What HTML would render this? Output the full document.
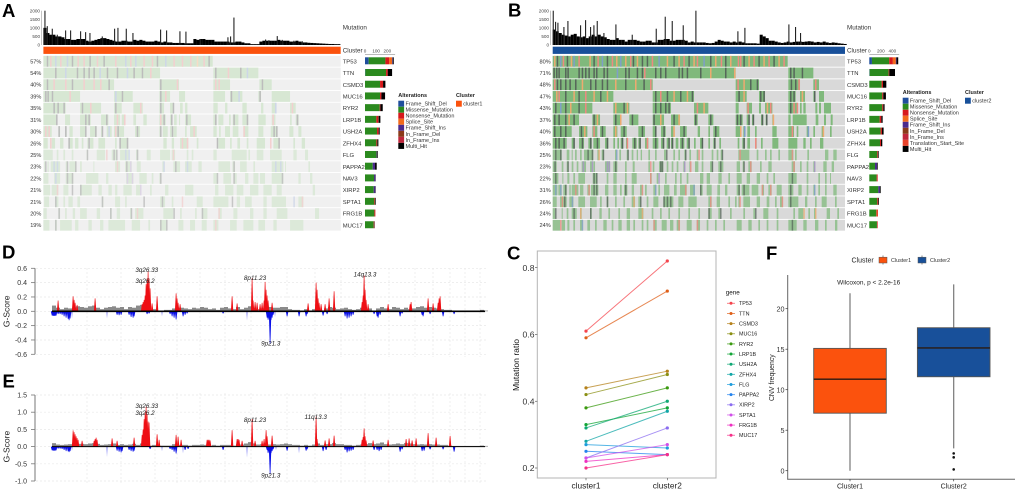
<!DOCTYPE html>
<html lang="en">
<head>
<meta charset="utf-8">
<title>Mutation landscape and CNV by cluster</title>
<style>
html,body{margin:0;padding:0;background:#fff;}
svg{display:block;filter:blur(.3px);}
text{font-family:"Liberation Sans",Arial,sans-serif;}
</style>
</head>
<body>
<svg id="fig" xmlns="http://www.w3.org/2000/svg" width="1020" height="493" viewBox="0 0 1020 493">
  <rect x="0" y="0" width="1020" height="493" fill="#fff"/>
  <g id="panelA"></g>
  <g id="panelB"></g>
  <g id="panelD"></g>
  <g id="panelE"></g>
  <g id="panelC"></g>
  <g id="panelF"></g>
  <g font-weight="700" font-size="18.5" fill="#000">
    <text x="2" y="17">A</text>
    <text x="508" y="16.5">B</text>
    <text x="507" y="259.5">C</text>
    <text x="2" y="258.5">D</text>
    <text x="2.5" y="387.5">E</text>
    <text x="766" y="259.5">F</text>
  </g>
</svg>
<script>
/* ---------- shared oncoplot data ---------- */
const genesA = ["TP53","TTN","CSMD3","MUC16","RYR2","LRP1B","USH2A","ZFHX4","FLG","PAPPA2","NAV3","XIRP2","SPTA1","FRG1B","MUC17"];
const pctA = ["57%","54%","40%","39%","35%","31%","30%","26%","25%","23%","22%","21%","21%","20%","19%"];
const pctB = ["80%","71%","48%","47%","43%","37%","40%","36%","25%","23%","22%","31%","26%","24%","24%"];
const alterationsA = ["Frame_Shift_Del","Missense_Mutation","Nonsense_Mutation","Splice_Site","Frame_Shift_Ins","In_Frame_Del","In_Frame_Ins","Multi_Hit"];
const alterationsB = ["Frame_Shift_Del","Missense_Mutation","Nonsense_Mutation","Splice_Site","Frame_Shift_Ins","In_Frame_Del","In_Frame_Ins","Translation_Start_Site","Multi_Hit"];
const mutTicks = [2000,1500,1000,500,0];

/* total mutation burden: block values every 9 sample columns, plus isolated hypermutated samples */
const burdenA = [1000,700,600,600,500,500,450,350,350,300,300,350,350,350,250,200,250,300,350,400,400,350,300,250,200,200,250,250,200,200,300,250,300,250,200,200,200,250,200,150,200,150,150,120,120,120,120,100,100,100,350,300,350,350,300,300,300,200,200,200,200,200,150,150,200,200,150,100,100,50,50,50,200,250,250,250,250,250,300,250,250,250,200,200,250,200,150,150,130,120,110,100,90,80,70,60,60,50,50];
const spikesA = [[133,2000],[140,1100],[155,950],[170,600],[195,850],[210,850],[240,800],[255,750],[268,700],[305,500],[342,950],[352,1000],[377,950],[397,700],[480,900],[498,850],[538,800],[556,780],[700,1600],[682,450],[690,500],[600,350],[795,320],[805,280],[830,520],[845,300],[880,250],[905,220]];
const burdenB = [900,800,700,600,550,500,600,650,500,450,500,400,500,600,500,600,500,450,350,300,300,400,300,300,200,300,300,300,250,200,200,250,250,150,150,300,300,350,350,250,250,300,300,300,250,150,200,150,150,150,150,120,100,120,200,300,250,200,200,150,200,150,200,150,100,100,100,100,80,600,500,400,250,250,200,150,120,150,200,150,180,200,200,180,200,220,200,150,180,150,200,150,120,150,130,100,80,60];
const spikesB = [[128,2000],[135,1350],[142,1300],[160,1050],[172,1400],[210,1150],[225,1450],[240,1050],[250,1150],[260,1400],[280,700],[316,1200],[365,600],[437,950],[464,1650],[485,1400],[518,1150],[556,2000],[682,800],[703,1000],[835,1200],[855,1050],[870,700]];

/* mutated sample runs per gene: [first column, last column] */
const runsA = [
[[130,638]],
[[130,480],[640,775]],
[[130,342],[478,537],[640,690],[778,815]],
[[130,240],[342,398],[478,510],[537,555],[640,675],[690,727],[775,783],[815,870]],
[[130,197],[240,303],[342,365],[400,428],[478,492],[510,522],[540,548],[555,562],[640,653],[675,682],[727,740],[783,790],[815,826],[870,887]],
[[130,172],[195,210],[240,272],[303,325],[342,360],[365,375],[400,408],[430,440],[478,497],[510,517],[522,530],[537,540],[555,573],[640,650],[655,670],[687,692],[698,715],[727,745],[775,797],[815,826],[870,875],[887,896]],
[[130,155],[175,180],[195,200],[208,218],[240,258],[270,290],[303,308],[320,335],[342,372],[405,420],[478,483],[488,503],[510,515],[520,530],[555,560],[570,590],[640,650],[657,662],[675,690],[698,715],[730,745],[775,790],[812,833],[868,880],[895,904]],
[[130,143],[155,165],[180,190],[205,218],[225,235],[245,250],[262,266],[270,280],[295,315],[345,350],[358,385],[490,500],[515,522],[540,565],[590,595],[655,675],[690,695],[712,720],[740,745],[770,795],[820,838],[880,885],[905,915]],
[[130,158],[170,175],[190,195],[215,220],[260,263],[290,315],[335,350],[360,385],[408,415],[440,452],[480,510],[515,525],[560,565],[575,580],[640,650],[695,740],[745,750],[770,790],[810,845],[880,890],[915,924]],
[[132,137],[142,146],[152,180],[197,202],[208,228],[240,245],[280,283],[345,360],[375,395],[410,422],[487,492],[520,540],[555,575],[595,605],[655,690],[697,705],[720,740],[760,765],[815,850],[855,858],[925,930]],
[[130,145],[162,180],[197,220],[258,295],[318,325],[378,400],[418,440],[455,460],[478,484],[640,652],[670,693],[700,710],[735,745],[760,775],[780,795],[815,850],[895,902],[930,937]],
[[130,150],[155,175],[190,205],[240,275],[295,305],[325,335],[345,352],[370,395],[408,422],[450,455],[495,505],[555,580],[645,655],[675,700],[710,730],[750,775],[790,815],[830,845],[938,945]],
[[132,147],[165,175],[190,195],[205,218],[232,240],[305,310],[345,360],[375,380],[480,495],[515,520],[590,608],[640,685],[710,720],[735,755],[790,800],[815,858],[895,910]],
[[130,140],[175,180],[195,200],[218,225],[240,260],[290,300],[330,335],[350,360],[390,395],[405,430],[490,520],[540,545],[585,590],[605,622],[655,665],[700,712],[750,760],[790,800],[830,862],[945,957]],
[[130,148],[165,170],[180,215],[225,235],[265,275],[300,310],[325,375],[395,420],[445,450],[480,500],[535,550],[570,585],[605,620],[640,655],[690,710],[730,760],[775,795],[820,830],[870,910]]
];
const runsB = [
[[128,833]],
[[128,677],[835,910]],
[[128,428],[677,747],[835,870],[910,927]],
[[128,310],[428,552],[677,710],[747,765],[835,857],[870,885],[910,916],[927,942]],
[[128,247],[310,358],[428,483],[552,595],[677,686],[710,726],[747,753],[765,787],[835,862],[870,875],[880,887],[916,922],[927,933],[942,963]],
[[128,207],[247,270],[310,332],[358,385],[428,462],[483,510],[552,563],[595,610],[677,698],[710,716],[726,732],[753,760],[767,772],[787,792],[835,842],[848,890],[917,925],[942,948],[962,968]],
[[128,185],[207,232],[247,262],[270,287],[310,322],[332,350],[385,405],[428,437],[453,467],[483,490],[510,530],[563,570],[595,600],[610,628],[677,690],[700,705],[712,720],[735,740],[787,800],[835,852],[860,865],[890,895],[910,915],[935,942],[960,965]],
[[128,170],[185,193],[207,222],[235,245],[250,270],[285,295],[310,315],[322,327],[332,340],[348,352],[367,380],[385,392],[405,415],[428,445],[453,463],[470,478],[483,490],[497,505],[510,523],[530,538],[552,557],[570,578],[595,600],[610,617],[628,633],[683,688],[697,705],[712,720],[735,740],[753,758],[787,805],[835,862],[880,887],[900,905],[930,940]],
[[128,155],[170,178],[185,188],[195,200],[210,215],[222,250],[262,268],[275,282],[315,320],[328,333],[350,355],[365,370],[380,384],[392,396],[415,420],[435,440],[462,468],[490,495],[505,510],[523,528],[538,543],[560,565],[575,580],[605,610],[620,625],[632,638],[685,718],[740,745],[765,770],[780,785],[805,810],[835,850],[855,860],[892,897],[945,955],[970,980]],
[[128,140],[155,160],[170,175],[185,190],[200,205],[215,228],[240,248],[250,255],[285,300],[310,322],[345,350],[368,374],[415,420],[428,433],[447,460],[470,475],[485,490],[500,505],[520,525],[538,542],[555,565],[575,580],[600,608],[625,640],[680,690],[698,702],[715,725],[750,755],[775,785],[845,855],[870,875],[890,895],[910,915],[940,950],[965,972]],
[[128,145],[157,160],[172,178],[190,195],[205,225],[248,262],[290,295],[310,320],[345,350],[365,380],[420,425],[440,445],[465,470],[495,500],[510,515],[530,535],[570,580],[590,600],[625,635],[655,660],[680,695],[710,720],[740,750],[770,775],[790,795],[835,860],[890,895],[925,930],[945,950],[960,963]],
[[128,142],[145,155],[160,170],[178,182],[185,205],[210,220],[232,240],[243,265],[285,295],[310,320],[330,335],[342,352],[365,372],[390,398],[405,410],[430,438],[445,450],[462,478],[492,500],[510,530],[540,555],[570,578],[590,605],[622,630],[645,652],[680,690],[695,718],[725,745],[755,762],[775,785],[800,815],[835,850],[865,875],[890,895],[910,915],[925,930],[945,950],[970,980]],
[[128,140],[150,170],[178,190],[205,225],[240,260],[270,275],[290,295],[315,320],[340,345],[365,375],[385,392],[410,415],[430,445],[460,490],[505,520],[535,560],[595,605],[620,630],[655,660],[675,680],[685,690],[700,720],[740,750],[770,778],[795,800],[810,818],[835,865],[885,892],[915,920],[935,950],[975,980]],
[[128,135],[155,158],[170,175],[185,200],[210,215],[240,245],[268,275],[295,300],[325,330],[350,360],[385,400],[425,430],[450,455],[475,480],[505,510],[535,540],[565,570],[595,605],[625,630],[660,665],[700,705],[730,735],[760,775],[800,805],[850,855],[865,880],[895,900],[912,917],[950,960],[982,987]],
[[128,150],[155,165],[172,178],[190,195],[210,218],[232,240],[255,260],[280,290],[305,310],[325,335],[350,360],[370,375],[395,400],[410,415],[430,440],[455,470],[480,490],[500,510],[530,545],[560,570],[590,595],[615,620],[640,645],[680,695],[715,725],[745,750],[770,775],[800,805],[835,860],[880,890],[915,925],[945,950],[975,982]]
];
/* single-sample non-missense calls: column + type letter (k multi-hit, r nonsense, o splice, b fs-del, p fs-ins) */
const accentsA = [
"140k 150r 165b 180r 200b 215k 232r 250r 268k 290r 310k 345r 375b 390r 405b 430r 455r 470k 495b 520r 545r 570r 590o 610r 625k",
"165k 195b 230k 250k 265k 280k 298b 320k 350k 380b 400k 425k 450r 645k 683r 720k 740b",
"140k 160r 195r 215k 250r 280r 300r 325k 480k 530r 645r 655r 785k",
"135k 142k 155k 208r 345b 365k 480k 495r 692k 715b 778k",
"160k 172k 190k 245k 270r 345k 420r 480k 518k 825b 875r",
"168k 255k 265k 318k 350r 372r 480r 490k 513k 558k 645k 700k 740k 817r 890k",
"135r 145r 175k 195k 255k 285k 305k 325b 345r 352k 410k 480k 515k 580r 730r 820k 828k",
"150r 205k 265k 358k 380k 545r 560r 650k 810r 835k",
"260k 318r 340k 348k 375b 385b 410k 518r",
"135k 160b 170b 200k 225k 350r 378k 390p 490b 525k 560b 700k 825b 840b",
"165b 200k 215k 380p 395p 480k 650k 700k 845k",
"170r 215k 240k 420p",
"165k 305k 430k 485k 545r 695k 880b 905r",
"175k 330k 392k 410r 520k 605k 655r",
"165k 480k 498k 645r"
];
const accentsB = [
"132o 140k 150b 158r 170k 182o 190b 205r 238o 250k 262r 275b 290k 305r 318o 330b 345o 360r 368k 380o 395k 410k 425r 445b 470o 490k 505o 520r 535k 550o 560r 580b 600k 615o 632r 645k 660o 683r 690r 700k 715o 730r 745k 760o 775r 790k 805o 820r",
"130k 138k 145k 165k 172k 205k 215k 225k 235k 250k 258k 280k 290k 320b 345k 355k 380k 395k 402r 435k 450k 465k 505k 515k 530k 570k 600o 645k 672o 840k 850k 875k",
"132r 140k 150k 165k 178k 195k 215o 240k 255k 275k 290k 315o 345k 375o 400k 420r 682r 700o 720k 740k 842k 855k 865r 915r",
"138o 145r 165k 190o 205k 225r 250o 270k 290o 435k 450r 470k 490o 510k 530o 545k 685k 700o 750k 760k 840k 850k 875o 912k",
"135k 150b 165k 180o 205k 225r 315o 340k 350o 435k 450k 465k 475k 560r 580o 712r 770o 780r 840k 850r 860r",
"132k 145k 165k 175o 190k 250k 260o 315k 330o 365k 430k 450o 490k 505o 555k 600k 680k 690k 715k 728k 755k 768k 788o",
"132k 150k 165k 212k 222o 250r 275k 315o 340k 395k 435k 460k 490o 520k 615k 690o 702b 845r 893b 938o",
"135k 145k 160k 190k 215k 240k 260k 290k 335k 350r 372k 388k 410r 435k 458k 475k 485k 515k 535k 575k 612k 700k 735r",
"135k 150k 232k 245k 265o 278k 318b 352k 468k 525k 565r 635k 688r 845r",
"133k 172k 218p 245p 290p 296p 315k 420r 450k 455k 522p 540r 605k 630k 700k 720r 850r 912p",
"135k 250k 258k 420r 445p 845k",
"135b 150b 165k 195r 235r 250k 258k 345k 395r 435b 525r 550b 570k 685k 700k 755r 780r 840k 912b",
"155r 162k 185b 290k 370o 390k 460k 470k 480k 600r 688r 815r 840k",
"135k 190k 210o 240k 395o 595k 630k 735k 880o 915o",
"150r 215b 430r 505r 560r 845k"
];
/* per-gene alteration counts: [fsDel, missense, nonsense, splice, fsIns, inDel, inIns, tss, multi] */
const countsA = [
[33,150,33,27,6,0,0,0,9],[3,186,15,0,0,0,0,0,39],[0,135,27,0,0,0,0,0,21],[0,135,12,0,0,0,0,0,33],[0,132,6,0,0,0,0,0,21],
[0,102,15,0,0,6,0,0,15],[0,108,15,0,0,0,0,0,9],[0,102,6,0,0,3,0,0,9],[0,102,0,0,3,0,0,0,9],[0,69,0,0,21,0,0,0,15],
[0,81,0,0,12,0,0,0,3],[0,78,0,0,15,0,0,0,3],[0,84,6,0,0,0,0,0,6],[0,84,9,0,0,0,0,0,0],[0,78,6,0,0,0,0,0,3]];
const countsB = [
[46,300,64,52,12,0,0,0,29],[6,330,12,0,0,0,0,0,99],[0,215,23,0,0,0,0,0,58],[0,226,17,0,0,0,0,0,46],[0,226,17,0,0,0,0,0,23],
[0,180,29,0,0,0,0,0,23],[0,197,23,0,0,0,0,0,29],[0,186,17,0,0,0,0,0,23],[0,139,12,0,0,0,0,0,12],[0,99,0,0,35,0,0,0,12],
[0,128,17,0,0,0,0,0,0],[0,157,0,0,29,0,0,0,12],[0,139,17,0,0,0,0,0,12],[0,122,0,0,0,0,0,29,0],[0,133,12,0,0,0,0,0,0]];

/* ---------- GISTIC data: genomic position (0-433) and G-score ---------- */
const chromBreaks = [35,69,103,125,148,173,199,235,263,289,313,337,363,381,398,413,428];
const cytobands = ["3q26.33","3q26.2","8p11.23","9p21.3"];
const ampPosD = [6,21,22,23,25,43,90,91,92,93,94,95,96,97,98,100,105,124,125,126,128,180,185,200,201,203,205,208,210,212,213,214,215,216,220,256,264,265,266,267,269,273,277,282,310,311,312,313,314,316,336,358,359,376,381,386,387,388];
const ampValD = [.15,.21,.16,.12,.09,.18,.1,.13,.16,.22,.38,.46,.56,.46,.32,.11,.21,.25,.18,.12,.1,.21,.11,.46,.15,.13,.12,.1,.12,.15,.41,.3,.22,.15,.12,.11,.4,.3,.18,.12,.1,.1,.18,.28,.13,.22,.5,.3,.16,.1,.1,.1,.13,.18,.11,.12,.18,.21];
const delPosD = [0,1,2,3,4,6,8,10,12,14,16,17,18,65,67,69,77,79,81,82,95,97,118,120,122,124,131,133,135,171,215,216,217,218,219,220,221,235,247,254,255,271,275,293,295,297,299,301,322,325,326,328,348,350,370,371,378,391,402];
const delValD = [.06,.065,.065,.065,.06,.04,.04,.05,.07,.09,.105,.125,.1,.05,.055,.05,.05,.08,.09,.07,.04,.03,.04,.07,.09,.115,.07,.05,.03,.03,.09,.12,.1,.45,.12,.09,.05,.07,.07,.07,.04,.06,.04,.07,.1,.09,.07,.05,.04,.07,.09,.05,.07,.03,.05,.07,.04,.07,.04];
const faintDelPosD = [20,55,110,195,223];
const faintDelValD = [.1,.1,.07,.13,.08];
const greyD = [.08,.05,.03,.05,.04,.05,.07,.06,.05,.07,.08,.05,.03,.05,.06,.07,.05,.06,.03,.06,.05,.08,.09,.05,.02,.03,.01,.01,.02,.02,.04,.05,.05,.04,.03,.05,.04,.06,.05,.03,.04,.02,.05,.06,.04,.03,.06,.03,.05,.07,.05,.03,.04,.05,.06,.05,.05,.06,.06,.03,.02,.02,.01,.03,.01,.03,.02,.01,.04,.06,.05,.03,.04,.05,.03,.02,.03,.05,.03,.04,.01,.04,.06,.04,.03,.06,.05,.03,.05,.03,.04,.06,.07,.05,.06,.05,.04,.03,.02,.02,.01,.01,.01,.01,.01,.01,.01,.02,.01];
const ampPosE = [21,22,23,24,25,26,30,42,43,44,45,60,65,82,90,91,92,93,94,95,96,97,105,107,124,126,129,155,156,157,158,180,185,186,187,190,200,203,210,212,214,215,220,264,265,273,277,282,310,311,312,313,314,321,336,354,357,360,364,376,384,398];
const ampValE = [.47,.42,.36,.3,.25,.2,.17,.17,.22,.26,.2,.24,.17,.26,.34,.5,.8,1.0,1.16,.95,.73,.7,.36,.2,.34,.29,.2,.2,.2,.2,.18,.48,.22,.22,.2,.17,.8,.17,.17,.22,.48,.3,.32,.87,.22,.18,.24,.32,.2,.28,.53,.3,.18,.18,.2,.22,.24,.18,.24,.39,.26,.31];
const delPosE = [0,1,2,3,4,6,8,10,12,14,16,17,18,65,67,69,70,77,79,81,82,98,118,120,122,124,133,136,171,215,216,217,218,219,220,221,235,254,255,271,274,293,295,297,299,301,322,325,327,329,348,350,370,372,378,391,402];
const delValE = [.11,.12,.12,.12,.11,.06,.06,.07,.1,.13,.14,.16,.13,.12,.15,.17,.13,.1,.13,.15,.12,.07,.07,.1,.15,.2,.1,.07,.1,.1,.19,.15,.8,.19,.13,.08,.12,.12,.08,.13,.1,.1,.17,.14,.12,.1,.1,.1,.13,.1,.15,.08,.13,.12,.08,.08,.15];
const faintDelPosE = [20,55,110,131,195,224,247];
const faintDelValE = [.12,.3,.13,.2,.32,.1,.2];
const greyE = [.1,.06,.05,.06,.07,.1,.08,.08,.07,.09,.1,.08,.05,.06,.07,.09,.05,.07,.05,.06,.08,.05,.09,.07,.03,.05,.02,.03,.03,.03,.07,.05,.05,.05,.03,.05,.05,.06,.05,.03,.05,.03,.05,.05,.05,.03,.07,.06,.09,.13,.09,.06,.07,.09,.06,.07,.06,.07,.09,.07,.05,.05,.03,.05,.03,.06,.09,.05,.07,.07,.1,.07,.07,.05,.05,.03,.05,.06,.07,.1,.07,.09,.12,.07,.06,.07,.09,.07,.1,.09,.07,.06,.07,.06,.07,.06,.06,.05,.05,.03,.02,.02,.02,.02,.02,.02,.02,.03,.02];
const ticksD = [0.6,0.4,0.2,0,-0.2,-0.4,-0.6];
const ticksE = [1.5,1,0.5,0,-0.5,-1];

/* ---------- panel C data ---------- */
const ratioGenes = ["TP53","TTN","CSMD3","MUC16","RYR2","LRP1B","USH2A","ZFHX4","FLG","PAPPA2","XIRP2","SPTA1","FRG1B","MUC17"];
const ratioCluster1 = [.61,.59,.44,.42,.38,.33,.32,.28,.27,.25,.23,.23,.22,.20];
const ratioCluster2 = [.82,.73,.49,.48,.44,.38,.40,.37,.26,.24,.32,.27,.24,.24];
const ratioTicks = [0.2,0.4,0.6,0.8];
const ratioGroups = ["cluster1","cluster2"];

/* ---------- panel F data ---------- */
const boxNames = ["Cluster1","Cluster2"];
const boxLow = [0,2.75];
const boxQ1 = [7.1,11.6];
const boxMedian = [11.3,15.15];
const boxQ3 = [15.1,17.65];
const boxHigh = [21.9,23];
const boxOutliers = [[],[2.14,1.65,0.16]];
const cnvTicks = [0,5,10,15,20];

/* ---------- helpers ---------- */
const NS = "http://www.w3.org/2000/svg";
function add(parent, tag, attrs, txt) {
  const el = document.createElementNS(NS, tag);
  for (const k in attrs) el.setAttribute(k, attrs[k]);
  if (txt !== undefined) el.textContent = txt;
  parent.appendChild(el);
  return el;
}
function linear(d0, d1, r0, r1) { return v => r0 + (v - d0) * (r1 - r0) / (d1 - d0); }

const altColor = {"Frame_Shift_Del":"#1f4e9c","Missense_Mutation":"#2b8a1e","Nonsense_Mutation":"#d7191c","Splice_Site":"#f26a1a","Frame_Shift_Ins":"#4b2a8c","In_Frame_Del":"#8b3a1a","In_Frame_Ins":"#c0263c","Translation_Start_Site":"#e8432a","Multi_Hit":"#000000"};
const countOrder = ["Frame_Shift_Del","Missense_Mutation","Nonsense_Mutation","Splice_Site","Frame_Shift_Ins","In_Frame_Del","In_Frame_Ins","Translation_Start_Site","Multi_Hit"];

/* ---------- oncoplot ---------- */
function oncoplot(cfg) {
  const g = cfg.g;
  const xs = linear(cfg.d0, cfg.d1, cfg.x0, cfg.x1);
  const yBurden = linear(0, 2000, 45, 10.7);
  cfg.burden.forEach((v, i) => {
    const bar = add(g, "rect", {x: xs(cfg.d0 + i * 9), y: yBurden(v), width: 3.05, height: 45 - yBurden(v), fill: "#000"});
    
    
  });
  cfg.spikes.forEach(s => {
    const sp = add(g, "rect", {x: xs(s[0]), y: yBurden(s[1]), width: 1.1, height: 45 - yBurden(s[1]), fill: "#222"});
    
    
  });
  const axis = add(g, "line", {x1: 41.5 + cfg.dxLab, x2: 41.5 + cfg.dxLab, y1: 10.7, y2: 45, stroke: "#888", "stroke-width": .5});
  
  
  mutTicks.forEach(t => {
    const lab = add(g, "text", {x: 40 + cfg.dxLab, y: yBurden(t) + 1.6, "font-size": 4.6, "text-anchor": "end", fill: "#444"}, String(t));
    
    
  });
  const cb = add(g, "rect", {x: cfg.x0, y: 46.7, width: cfg.x1 - cfg.x0, height: 7.2, fill: cfg.clusterColor});
  
  

  genesA.forEach((gene, r) => {
    const y = 55.9 + r * 11.71;
    const base = add(g, "rect", {x: cfg.x0, y: y, width: cfg.x1 - cfg.x0, height: 10.8, fill: cfg.base});
    
    
    const rowAlpha = r >= 8 ? cfg.lowerAlpha : 1;
    cfg.runs[r].forEach(run => {
      const c = add(g, "rect", {x: xs(run[0]), y: y, width: xs(run[1]) - xs(run[0]), height: 10.8, fill: cfg.cell.g, "fill-opacity": rowAlpha});
      
      
    });
    cfg.accents[r].split(" ").forEach(tok => {
      const col = parseInt(tok, 10);
      const kind = tok.slice(-1);
      const a = add(g, "rect", {x: xs(col), y: y, width: 1.5, height: 10.8, fill: cfg.cell[kind], "fill-opacity": rowAlpha});
      
      
    });
    const pct = add(g, "text", {x: cfg.x0 - 2, y: y + 7.4, "font-size": 5.6, "text-anchor": "end", fill: "#333"}, cfg.pct[r]);
    
    
    const gl = add(g, "text", {x: cfg.x1 + 2, y: y + 7.5, "font-size": 5.9, fill: "#333"}, gene);
    
    
    let cx = cfg.barX;
    const barScale = cfg.barPx / cfg.barMax;
    cfg.counts[r].forEach((v, k) => {
      if (!v) return;
      const seg = add(g, "rect", {x: cx, y: y + 1.4, width: v * barScale, height: 7, fill: altColor[countOrder[k]]});
      
      
      cx += v * barScale;
    });
  });
  const mt = add(g, "text", {x: cfg.x1 + 2, y: 29.5, "font-size": 6.3, fill: "#333"}, "Mutation");
  
  
  const ct = add(g, "text", {x: cfg.x1 + 2, y: 52.3, "font-size": 6.3, fill: "#333"}, "Cluster");
  
  
  const ax = add(g, "line", {x1: cfg.barX, x2: cfg.barX + cfg.barPx * cfg.axisEnd, y1: 54.5, y2: 54.5, stroke: "#777", "stroke-width": .5});
  
  
  cfg.barTicks.forEach(t => {
    const tl = add(g, "text", {x: cfg.barX + t * cfg.barPx / cfg.barMax, y: 52.7, "font-size": 4.6, "text-anchor": "middle", fill: "#444"}, String(t));
    
    
  });
  const lt = add(g, "text", {x: cfg.legX, y: cfg.legY, "font-size": 5.5, "font-weight": 700, fill: "#222"}, "Alterations");
  
  
  cfg.alts.forEach((name, i) => {
    const y = cfg.legY + 6.7 + i * 6.03;
    const sw = add(g, "rect", {x: cfg.legX, y: y - 3, width: 5.8, height: 6, fill: altColor[name]});
    
    
    const lb = add(g, "text", {x: cfg.legX + 7.2, y: y + 1.9, "font-size": 5.5, fill: "#333"}, name);
    
    
  });
  const cl = add(g, "text", {x: cfg.cluX, y: cfg.legY, "font-size": 5.5, "font-weight": 700, fill: "#222"}, "Cluster");
  
  
  const cs = add(g, "rect", {x: cfg.cluX, y: cfg.legY + 3.7, width: 5.8, height: 6, fill: cfg.clusterColor});
  
  
  const cn = add(g, "text", {x: cfg.cluX + 7.2, y: cfg.legY + 8.6, "font-size": 5.5, fill: "#333"}, cfg.clusterName);
  
  
}
oncoplot({g: document.getElementById("panelA"), d0: 130, d1: 1022, x0: 43.4, x1: 340.7, dxLab: 0,
  burden: burdenA, spikes: spikesA, runs: runsA, accents: accentsA, counts: countsA, pct: pctA, alts: alterationsA,
  clusterColor: "#fb520d", clusterName: "cluster1", base: "#f0f0f0", lowerAlpha: .8,
  cell: {g:"#d7e7d3",k:"#bcbcbc",r:"#f3cfcf",o:"#f7dcc6",b:"#cdd6e8",p:"#dccfe6"},
  barX: 365, barPx: 22.3, barMax: 200, axisEnd: 1.35, barTicks: [0,100,200],
  legX: 398.3, legY: 97, cluX: 456});
oncoplot({g: document.getElementById("panelB"), d0: 128, d1: 1005, x0: 552.7, x1: 845, dxLab: 509,
  burden: burdenB, spikes: spikesB, runs: runsB, accents: accentsB, counts: countsB, pct: pctB, alts: alterationsB,
  clusterColor: "#18509a", clusterName: "cluster2", base: "#d9d9d9", lowerAlpha: .75,
  cell: {g:"#80b97c",k:"#56665a",r:"#ee8a80",o:"#eeaa70",b:"#7f9fc8",p:"#a890c8"},
  barX: 869.3, barPx: 23, barMax: 400, axisEnd: 1.3, barTicks: [0,200,400],
  legX: 902.7, legY: 94, cluX: 965});

/* ---------- GISTIC ---------- */
function gistic(cfg) {
  const g = cfg.g;
  const xp = linear(0, 433, 52, 485);
  const yp = linear(cfg.d0, cfg.d1, cfg.r0, cfg.r1);
  const zero = yp(0);
  chromBreaks.forEach(b => {
    const v = add(g, "line", {x1: xp(b), x2: xp(b), y1: cfg.gridTop, y2: cfg.gridBot, stroke: "#e8e8e8", "stroke-width": .7, "stroke-dasharray": "2 2"});
    
    
  });
  cfg.ticks.forEach(t => {
    const h = add(g, "line", {x1: 36, x2: 487, y1: yp(t), y2: yp(t), stroke: "#e8e8e8", "stroke-width": .7, "stroke-dasharray": "2 2"});
    
    
    const tk = add(g, "line", {x1: 31, x2: 35, y1: yp(t), y2: yp(t), stroke: "#777", "stroke-width": .8});
    
    
    const lb = add(g, "text", {x: 27, y: yp(t) + 2.5, "font-size": 7, "text-anchor": "end", fill: "#333"}, t.toFixed(1));
    
    
  });
  const ax = add(g, "line", {x1: 35, x2: 35, y1: yp(cfg.ticks[0]), y2: yp(cfg.ticks[cfg.ticks.length - 1]), stroke: "#777", "stroke-width": 1});
  
  
  const title = add(g, "text", {x: 0, y: 0, "font-size": 8.5, "text-anchor": "middle", fill: "#222", transform: "translate(9.5," + zero + ") rotate(-90)"}, "G-Score");
  
  
  cfg.grey.forEach((v, i) => {
    const b = add(g, "rect", {x: xp(i * 4), y: yp(v), width: 4, height: zero - yp(v), fill: "#8a8a8a"});
    
    
  });
  cfg.ampPos.forEach((p, i) => {
    const px = xp(p);
    const t = add(g, "polygon", {points: (px - 1.1) + "," + zero + " " + (px - .2) + "," + yp(cfg.ampVal[i]) + " " + (px + .4) + "," + yp(cfg.ampVal[i]) + " " + (px + 1.3) + "," + zero, fill: "#ee0f14"});
    
    
  });
  cfg.delPos.forEach((p, i) => {
    const px = xp(p);
    const t = add(g, "polygon", {points: (px - 1.2) + "," + zero + " " + (px - .2) + "," + yp(-cfg.delVal[i]) + " " + (px + .4) + "," + yp(-cfg.delVal[i]) + " " + (px + 1.4) + "," + zero, fill: "#0a10e8"});
    
    
  });
  cfg.faintPos.forEach((p, i) => {
    const px = xp(p);
    const t = add(g, "polygon", {points: (px - .6) + "," + zero + " " + px + "," + yp(-cfg.faintVal[i]) + " " + (px + .6) + "," + zero, fill: "#7a7cf4"});
    
    
  });
  const base = add(g, "line", {x1: xp(0), x2: xp(433), y1: zero, y2: zero, stroke: "#000", "stroke-width": cfg.baseW});
  
  
  cfg.labels.forEach(l => {
    const t = add(g, "text", {x: l[1], y: l[2], "font-size": 6.3, "font-style": "italic", "text-anchor": "middle", fill: "#222"}, l[0]);
    
    
  });
}
gistic({g: document.getElementById("panelD"), d0: -0.6, d1: 0.6, r0: 354.3, r1: 268.3, ticks: ticksD, gridTop: 268, gridBot: 357,
  grey: greyD, ampPos: ampPosD, ampVal: ampValD, delPos: delPosD, delVal: delValD, faintPos: faintDelPosD, faintVal: faintDelValD, baseW: 1.6,
  labels: [[cytobands[0],146.7,272],[cytobands[1],145,283],[cytobands[2],255,280],["14q13.3",365,276.5],[cytobands[3],270.7,345.5]]});
gistic({g: document.getElementById("panelE"), d0: -1, d1: 1.5, r0: 481, r1: 395, ticks: ticksE, gridTop: 393, gridBot: 483,
  grey: greyE, ampPos: ampPosE, ampVal: ampValE, delPos: delPosE, delVal: delValE, faintPos: faintDelPosE, faintVal: faintDelValE, baseW: 1,
  labels: [[cytobands[0],146.7,408],[cytobands[1],145,415],[cytobands[2],255,422],["11q13.3",315.7,419],[cytobands[3],270.7,477.5]]});

/* ---------- panel C ---------- */
(function () {
  const g = document.getElementById("panelC");
  const colors = ["#f4444c","#df5f18","#b5811b","#8a8f12","#3a9a0f","#12a536","#0fa874","#10a6a6","#1c9cdc","#2383ee","#8a6cf0","#d04fe8","#ee2fc0","#f52f88"];
  const yr = linear(0.2, 0.8, 468, 267.7);
  const xr = i => 586 + i * 81.3;
  const frame = add(g, "rect", {x: 537.3, y: 251, width: 178.7, height: 227, fill: "#fff", stroke: "#b4b4b4", "stroke-width": 1});
  
  
  ratioTicks.forEach(t => {
    const tk = add(g, "line", {x1: 535, x2: 537.3, y1: yr(t), y2: yr(t), stroke: "#444", "stroke-width": .6});
    
    
    const lb = add(g, "text", {x: 534.5, y: yr(t) + 3.1, "font-size": 8.6, "text-anchor": "end", fill: "#333"}, t.toFixed(1));
    
    
  });
  ratioGroups.forEach((name, i) => {
    const tk = add(g, "line", {x1: xr(i), x2: xr(i), y1: 478, y2: 480.3, stroke: "#444", "stroke-width": .6});
    
    
    const lb = add(g, "text", {x: xr(i), y: 488.5, "font-size": 8.3, "text-anchor": "middle", fill: "#222"}, name);
    
    
  });
  const yt = add(g, "text", {x: 0, y: 0, "font-size": 8.6, "text-anchor": "middle", fill: "#111", transform: "translate(519,365) rotate(-90)"}, "Mutation ratio");
  
  
  ratioGenes.forEach((gene, i) => {
    const ln = add(g, "line", {x1: xr(0), y1: yr(ratioCluster1[i]), x2: xr(1), y2: yr(ratioCluster2[i]), stroke: colors[i], "stroke-width": 1, "stroke-opacity": .75});
    
    
    const p1 = add(g, "circle", {cx: xr(0), cy: yr(ratioCluster1[i]), r: 1.6, fill: colors[i]});
    
    
    const p2 = add(g, "circle", {cx: xr(1), cy: yr(ratioCluster2[i]), r: 1.6, fill: colors[i]});
    
    
    const ly = 303.3 + i * 10.15;
    const kl = add(g, "line", {x1: 727, x2: 735, y1: ly, y2: ly, stroke: colors[i], "stroke-width": .9, "stroke-opacity": .75});
    
    
    const kd = add(g, "circle", {cx: 731, cy: ly, r: 1.5, fill: colors[i]});
    
    
    const kt = add(g, "text", {x: 739, y: ly + 1.9, "font-size": 5.4, fill: "#222"}, gene);
    
    
  });
  const lt = add(g, "text", {x: 725.7, y: 294.3, "font-size": 6.3, fill: "#111"}, "gene");
  
  
})();

/* ---------- panel F ---------- */
(function () {
  const g = document.getElementById("panelF");
  const colors = ["#fb520d","#18509a"];
  const centers = [850,953.7];
  const yc = linear(0, 20, 470.7, 308.7);
  const hw = 36.3;
  const ya = add(g, "line", {x1: 787.7, x2: 787.7, y1: 275, y2: 479.5, stroke: "#666", "stroke-width": 1});
  
  
  const xa = add(g, "line", {x1: 787.2, x2: 1015, y1: 479.3, y2: 479.3, stroke: "#666", "stroke-width": 1});
  
  
  cnvTicks.forEach(t => {
    const tk = add(g, "line", {x1: 785.5, x2: 787.7, y1: yc(t), y2: yc(t), stroke: "#333", "stroke-width": .7});
    
    
    const lb = add(g, "text", {x: 784.5, y: yc(t) + 2.6, "font-size": 7.2, "text-anchor": "end", fill: "#333"}, String(t));
    
    
  });
  const yt = add(g, "text", {x: 0, y: 0, "font-size": 6.9, "text-anchor": "middle", fill: "#222", transform: "translate(774,377.7) rotate(-90)"}, "CNV frequency");
  
  
  boxNames.forEach((name, i) => {
    const c = centers[i];
    const wh = add(g, "line", {x1: c, x2: c, y1: yc(boxHigh[i]), y2: yc(boxLow[i]), stroke: "#777", "stroke-width": 1.2});
    
    
    const bx = add(g, "rect", {x: c - hw, y: yc(boxQ3[i]), width: hw * 2, height: yc(boxQ1[i]) - yc(boxQ3[i]), fill: colors[i], stroke: "#555", "stroke-width": .9});
    
    
    const md = add(g, "line", {x1: c - hw, x2: c + hw, y1: yc(boxMedian[i]), y2: yc(boxMedian[i]), stroke: "#2a1a12", "stroke-width": 1.4});
    
    
    boxOutliers[i].forEach(v => {
      const o = add(g, "circle", {cx: c, cy: yc(v), r: 1.3, fill: "#111"});
      
      
    });
    const tk = add(g, "line", {x1: c, x2: c, y1: 479.3, y2: 481.3, stroke: "#333", "stroke-width": .7});
    
    
    const lb = add(g, "text", {x: c, y: 488.3, "font-size": 7, "text-anchor": "middle", fill: "#222"}, name);
    
    
    const kx = i === 0 ? 879 : 918;
    const kw = add(g, "line", {x1: kx + 4, x2: kx + 4, y1: 255.5, y2: 264.5, stroke: "#555", "stroke-width": .7});
    
    
    const kb = add(g, "rect", {x: kx, y: 257.2, width: 8, height: 5.8, fill: colors[i], stroke: "#555", "stroke-width": .5});
    
    
    const kt = add(g, "text", {x: kx + 12, y: 262, "font-size": 5.4, fill: "#333"}, name);
    
    
  });
  const lg = add(g, "text", {x: 851.5, y: 262.5, "font-size": 7, fill: "#222"}, "Cluster");
  
  
  const st = add(g, "text", {x: 868.7, y: 284.5, "font-size": 6.5, "text-anchor": "middle", fill: "#222"}, "Wilcoxon, p < 2.2e-16");
  
  
})();
</script>
</body>
</html>
